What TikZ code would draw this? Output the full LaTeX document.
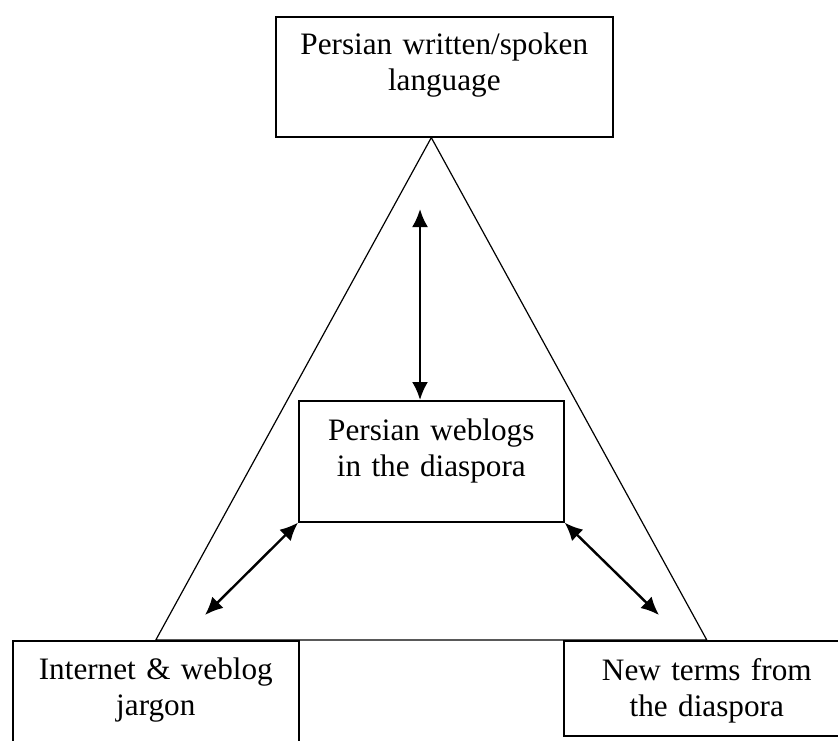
\documentclass[tikz,border=0pt]{standalone}
\usepackage{fontspec}
\setmainfont{Liberation Serif}[WordSpace = 0.75]
\usetikzlibrary{arrows.meta}

\begin{document}
\begin{tikzpicture}[> = {Latex[length = 9pt, width = 8pt]}, x = 0.5pt, y = -0.5pt,
	box/.style = {draw, line width = 0.8pt, align = center, inner sep = 0pt, anchor = north west,
		font = \fontsize{15.6}{18}\selectfont},
	link/.style = {<->, line width = 1.2pt}]

	% Definitions
	
	\def\W{143pt}		% Width of the lower boxes
	
	% Page
	
	\useasboundingbox (0, 0) rectangle (838, 740);
	
	% Draw boxes
	
	\node (lang) [box, text width = 168.5pt, text height = 19pt, text depth = 41pt] at (275, 16) {Persian written/spoken\\language};
	\node (web) [box, text width = 132.5pt, text height = 20pt, text depth = 40.5pt] at (298, 400) {Persian weblogs\\in the diaspora};
	\node (jargon) [box, text width = \W, text height = 19.5pt, text depth = 45pt] at (12, 640) {Internet \& weblog\\jargon};
	\node (terms) [box, text width = \W, text height = 20pt, text depth = 27.5pt] at (563, 640) {New terms from\\the diaspora};
	
	% Draw triangle
	
	\draw [line width = 0.6pt] (lang.south -| web.north) -- (jargon.north) -- (terms.north) -- cycle;
	
	% Draw arrows
	
	\coordinate (up) at (420, 209);
	\coordinate (left) at (205, 615);
	\coordinate (right) at (659, 615);
	
	\draw [link] (up) -- (up |- web.north);
	\draw [link] (web.south west) -- (left);
	\draw [link] (web.south east) -- (right);
	
\end{tikzpicture}
\end{document}
